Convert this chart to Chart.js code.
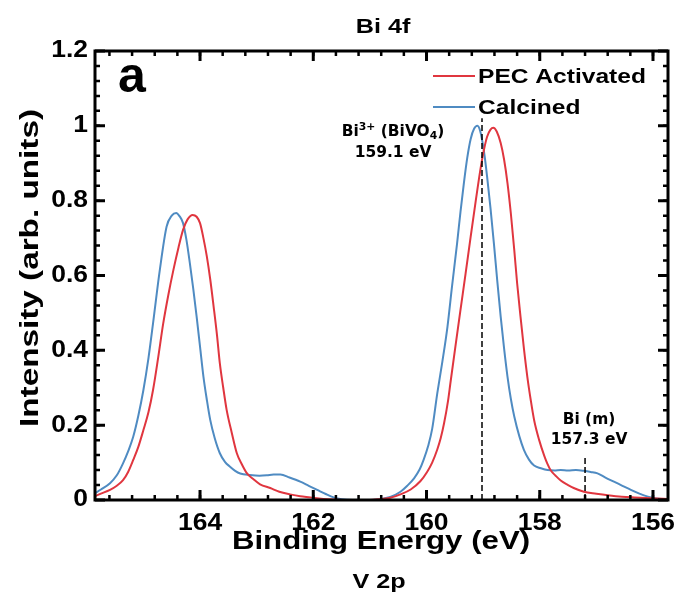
<!DOCTYPE html>
<html>
<head>
<meta charset="utf-8">
<script src="https://cdn.jsdelivr.net/npm/chart.js@4.4.0/dist/chart.umd.min.js"></script>
<style>
  html, body { margin: 0; padding: 0; background: #fff; }
</style>
</head>
<body>
<canvas id="xps" width="682" height="601"></canvas>
<script>
/* ---------- data ---------- */
const energyCalcined = [
  165.86, 165.75, 165.59, 165.47, 165.36, 165.27, 165.18, 165.09, 165.00, 164.91,
  164.83, 164.71, 164.59, 164.50, 164.42, 164.36, 164.30, 164.24, 164.18, 164.12,
  164.06, 164.00, 163.94, 163.88, 163.82, 163.74, 163.65, 163.56, 163.47, 163.38,
  163.29, 163.12, 162.95, 162.82, 162.70, 162.58, 162.42, 162.23, 162.08, 161.93,
  161.78, 161.64, 161.50, 161.30, 161.00, 160.80, 160.64, 160.46, 160.34, 160.22,
  160.12, 160.05, 159.97, 159.90, 159.81, 159.72, 159.63, 159.55, 159.46, 159.40,
  159.34, 159.28, 159.22, 159.16, 159.10, 159.05, 159.01, 158.97, 158.93, 158.87,
  158.81, 158.75, 158.69, 158.63, 158.57, 158.51, 158.45, 158.36, 158.28, 158.19,
  158.10, 157.98, 157.86, 157.74, 157.63, 157.50, 157.36, 157.22, 157.10, 156.98,
  156.84, 156.69, 156.54, 156.39, 156.24, 156.09, 155.95, 155.80, 155.74
];
const intensityCalcined = [
  0.018, 0.028, 0.045, 0.066, 0.098, 0.130, 0.169, 0.225, 0.294, 0.380,
  0.472, 0.615, 0.731, 0.760, 0.767, 0.758, 0.740, 0.695, 0.633, 0.565,
  0.490, 0.410, 0.330, 0.268, 0.214, 0.165, 0.125, 0.102, 0.089, 0.078,
  0.071, 0.067, 0.065, 0.066, 0.068, 0.068, 0.060, 0.049, 0.038, 0.027,
  0.016, 0.007, 0.002, 0.000, 0.000, 0.003, 0.008, 0.022, 0.038, 0.058,
  0.082, 0.108, 0.145, 0.190, 0.285, 0.370, 0.463, 0.570, 0.686, 0.770,
  0.847, 0.915, 0.965, 0.992, 1.000, 0.985, 0.955, 0.915, 0.864, 0.780,
  0.686, 0.585, 0.490, 0.405, 0.330, 0.270, 0.223, 0.170, 0.134, 0.108,
  0.092, 0.085, 0.080, 0.079, 0.080, 0.079, 0.080, 0.078, 0.075, 0.071,
  0.060, 0.049, 0.038, 0.027, 0.017, 0.009, 0.004, 0.002, 0.001
];

const energyPec = [
  165.86, 165.75, 165.59, 165.47, 165.36, 165.27, 165.18, 165.09, 165.00, 164.91,
  164.83, 164.74, 164.65, 164.56, 164.47, 164.38, 164.30, 164.22, 164.13, 164.06,
  164.00, 163.94, 163.88, 163.82, 163.76, 163.70, 163.65, 163.59, 163.53, 163.44,
  163.35, 163.26, 163.17, 163.06, 162.94, 162.76, 162.60, 162.41, 162.23, 162.05,
  161.90, 161.75, 161.40, 161.00, 160.80, 160.64, 160.46, 160.28, 160.11, 159.99,
  159.90, 159.81, 159.75, 159.69, 159.62, 159.58, 159.49, 159.40, 159.31, 159.22,
  159.13, 159.04, 158.98, 158.93, 158.87, 158.82, 158.76, 158.69, 158.63, 158.57,
  158.51, 158.45, 158.40, 158.34, 158.28, 158.22, 158.16, 158.10, 158.01, 157.92,
  157.86, 157.81, 157.72, 157.63, 157.50, 157.40, 157.22, 157.00, 156.80, 156.55,
  156.33, 156.04, 155.74
];
const intensityPec = [
  0.010, 0.017, 0.027, 0.038, 0.053, 0.075, 0.107, 0.142, 0.187, 0.235,
  0.294, 0.380, 0.472, 0.548, 0.615, 0.675, 0.722, 0.750, 0.762, 0.757,
  0.740, 0.700, 0.651, 0.590, 0.517, 0.440, 0.365, 0.300, 0.241, 0.180,
  0.125, 0.095, 0.071, 0.056, 0.042, 0.032, 0.022, 0.015, 0.010, 0.007,
  0.004, 0.002, 0.000, 0.000, 0.003, 0.006, 0.015, 0.028, 0.050, 0.075,
  0.100, 0.135, 0.165, 0.205, 0.265, 0.310, 0.410, 0.508, 0.605, 0.704,
  0.800, 0.891, 0.940, 0.971, 0.990, 0.995, 0.985, 0.954, 0.910, 0.847,
  0.765, 0.668, 0.580, 0.490, 0.405, 0.330, 0.268, 0.214, 0.160, 0.118,
  0.095, 0.080, 0.065, 0.052, 0.040, 0.032, 0.022, 0.017, 0.013, 0.009,
  0.007, 0.005, 0.003
];

// reference lines: Bi3+ (BiVO4) and Bi (m)
const markerEnergy = [159.02, 157.20];
const markerTop = [1.02, 0.12];

const xTicks = [164, 162, 160, 158, 156];
const yTicks = [0, 0.2, 0.4, 0.6, 0.8, 1, 1.2];
const xRange = [155.735, 165.855];
const yRange = [0, 1.2];

const seriesNames = ['PEC Activated', 'Calcined'];
const RED = '#e0363f';
const BLUE = '#4f8bc2';

/* ---------- helpers ---------- */
const zip = (xs, ys) => xs.map((x, i) => ({ x, y: ys[i] }));

function txt(ctx, s, x, y, size, sx, align, rot, family) {
  ctx.save();
  ctx.translate(x, y);
  if (rot) ctx.rotate(rot);
  ctx.scale(sx, 1);
  ctx.font = `bold ${size}px ${family || '"Liberation Sans", Arial, sans-serif'}`;
  ctx.textAlign = align || 'center';
  ctx.textBaseline = 'middle';
  ctx.fillStyle = '#000';
  ctx.fillText(s, 0, 0);
  ctx.restore();
}

// text with super/subscript pieces, centred on x
function richText(ctx, parts, cx, y, size, sx) {
  const fam = '"DejaVu Sans", sans-serif';
  ctx.save();
  ctx.textBaseline = 'middle';
  let total = 0;
  parts.forEach(p => {
    ctx.font = `bold ${p.small ? size * 0.7 : size}px ${fam}`;
    total += ctx.measureText(p.t).width;
  });
  ctx.translate(cx - total * sx / 2, y);
  ctx.scale(sx, 1);
  let x = 0;
  parts.forEach(p => {
    ctx.font = `bold ${p.small ? size * 0.7 : size}px ${fam}`;
    ctx.fillStyle = '#000';
    ctx.textAlign = 'left';
    ctx.fillText(p.t, x, p.small === 'up' ? -5 : p.small === 'down' ? 4 : 0);
    x += ctx.measureText(p.t).width;
  });
  ctx.restore();
}

/* ---------- frame, ticks and text ---------- */
const framePlugin = {
  id: 'frame',
  afterDraw(chart) {
    const { ctx, chartArea: a, scales: { x, y } } = chart;
    ctx.save();
    ctx.strokeStyle = '#000';
    ctx.lineCap = 'butt';

    // inward ticks on all four sides
    const tickX = (v, len, w) => {
      const px = x.getPixelForValue(v);
      ctx.lineWidth = w;
      ctx.beginPath();
      ctx.moveTo(px, a.bottom); ctx.lineTo(px, a.bottom - len);
      ctx.moveTo(px, a.top); ctx.lineTo(px, a.top + len);
      ctx.stroke();
    };
    const tickY = (v, len, w) => {
      const py = y.getPixelForValue(v);
      ctx.lineWidth = w;
      ctx.beginPath();
      ctx.moveTo(a.left, py); ctx.lineTo(a.left + len, py);
      ctx.moveTo(a.right, py); ctx.lineTo(a.right - len, py);
      ctx.stroke();
    };
    for (let i = -1; i <= 26; i++) {
      const v = 156 + 0.4 * i;
      if (v > xRange[0] && v < xRange[1]) tickX(v, 5, 2.5);
    }
    for (let i = 1; i < 30; i++) tickY(0.04 * i, 5, 2.5);
    xTicks.forEach(v => tickX(v, 10, 3));
    yTicks.forEach(v => tickY(v, 10, 3));

    ctx.lineWidth = 3;
    ctx.strokeRect(a.left, a.top, a.right - a.left, a.bottom - a.top);
    ctx.restore();

    // tick labels
    xTicks.forEach(v => txt(ctx, String(v), x.getPixelForValue(v), 524, 23, 1.15));
    yTicks.forEach(v => txt(ctx, String(v), 88, y.getPixelForValue(v), 23, 1.15, 'right'));

    // axis titles and headings
    txt(ctx, 'Binding Energy (eV)', 381, 542, 26, 1.2);
    txt(ctx, 'Intensity (arb. units)', 31, 268, 26, 1.28, 'center', -Math.PI / 2);
    txt(ctx, 'Bi 4f', 383, 27, 21, 1.2);
    txt(ctx, 'V 2p', 379, 582, 21, 1.2);
    txt(ctx, 'a', 132, 78, 50, 1.0);

    // legend
    const legendRows = [[seriesNames[0], RED, 76], [seriesNames[1], BLUE, 107]];
    legendRows.forEach(([name, col, ly]) => {
      ctx.save();
      ctx.strokeStyle = col;
      ctx.lineWidth = 2;
      ctx.beginPath();
      ctx.moveTo(433, ly); ctx.lineTo(475, ly);
      ctx.stroke();
      ctx.restore();
      txt(ctx, name, 478, ly + 1, 21, 1.17, 'left');
    });

    // annotations
    richText(ctx, [{ t: 'Bi' }, { t: '3+', small: 'up' }, { t: ' (BiVO' }, { t: '4', small: 'down' }, { t: ')' }], 393, 132, 15, 1.03);
    txt(ctx, '159.1 eV', 393, 153, 15, 1.03, 'center', 0, '"DejaVu Sans", sans-serif');
    txt(ctx, 'Bi (m)', 589, 420, 15, 1.03, 'center', 0, '"DejaVu Sans", sans-serif');
    txt(ctx, '157.3 eV', 589, 440, 15, 1.03, 'center', 0, '"DejaVu Sans", sans-serif');
  }
};

/* ---------- main ---------- */
const markerSets = markerEnergy.map((e, i) => ({
  data: [{ x: e, y: 0 }, { x: e, y: markerTop[i] }],
  borderColor: '#000',
  borderWidth: 1.5,
  borderDash: [6, 3],
  pointRadius: 0,
  tension: 0
}));

new Chart(document.getElementById('xps'), {
  type: 'line',
  data: {
    datasets: [
      ...markerSets,
      {
        label: seriesNames[0],
        data: zip(energyPec, intensityPec),
        borderColor: RED,
        borderWidth: 2,
        pointRadius: 0,
        cubicInterpolationMode: 'monotone'
      },
      {
        label: seriesNames[1],
        data: zip(energyCalcined, intensityCalcined),
        borderColor: BLUE,
        borderWidth: 2,
        pointRadius: 0,
        cubicInterpolationMode: 'monotone'
      }
    ]
  },
  options: {
    responsive: false,
    animation: false,
    devicePixelRatio: 1,
    layout: { padding: { top: 51, right: 14, left: 0, bottom: 0 } },
    plugins: { legend: { display: false }, tooltip: { enabled: false } },
    scales: {
      x: {
        type: 'linear',
        reverse: true,
        min: xRange[0],
        max: xRange[1],
        grid: { display: false },
        border: { display: false },
        ticks: { display: false },
        afterFit: s => { s.height = 101; }
      },
      y: {
        min: yRange[0],
        max: yRange[1],
        grid: { display: false },
        border: { display: false },
        ticks: { display: false },
        afterFit: s => { s.width = 95; }
      }
    }
  },
  plugins: [framePlugin]
});
</script>
</body>
</html>
